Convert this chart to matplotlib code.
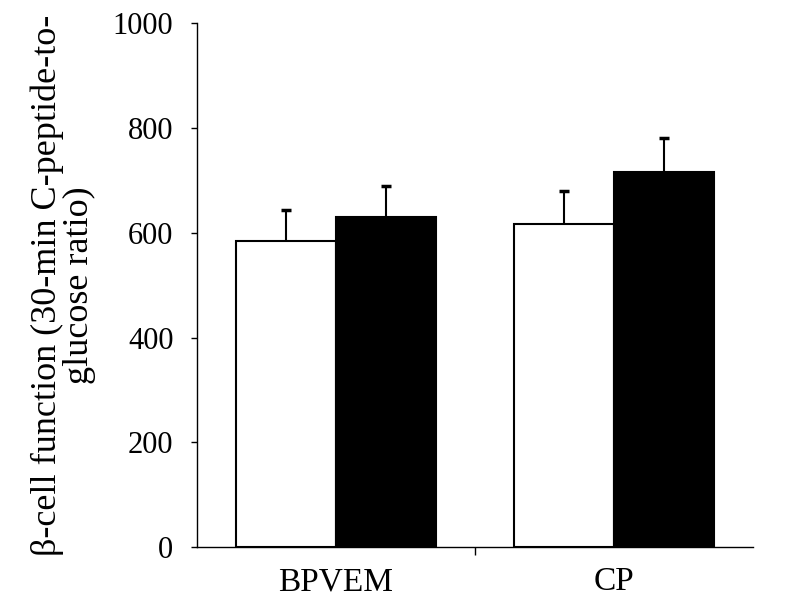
import numpy as np
import matplotlib
matplotlib.use('Agg')
import matplotlib.pyplot as plt

groups = ['BPVEM', 'CP']
white_vals = [585, 617]
white_err = [58, 63]
black_vals = [629, 716]
black_err = [60, 65]

plt.rcParams['font.family'] = ['Liberation Serif', 'DejaVu Serif']

fig = plt.figure(figsize=(7.88, 5.96), dpi=100)
ax = fig.add_axes([0.25, 0.0817, 0.7056, 0.8799])

x = np.arange(len(groups))
w = 0.358
ax.bar(x - w / 2, white_vals, w, color='white', edgecolor='black', linewidth=1.5, zorder=2)
ax.bar(x + w / 2, black_vals, w, color='black', edgecolor='black', linewidth=1.5, zorder=2)

# upper-only error bars
for xs, vals, errs in [(x - w / 2, white_vals, white_err), (x + w / 2, black_vals, black_err)]:
    _, caps, _ = ax.errorbar(xs, vals, yerr=[np.zeros(len(errs)), errs], fmt='none',
                             ecolor='black', elinewidth=1.5, capsize=3.5, capthick=2.5,
                             zorder=3)
    caps[0].set_visible(False)

ax.set_xlim(-0.5, 1.5)
ax.set_ylim(0, 1000)
ax.set_yticks(range(0, 1001, 200))
ax.set_xticks([0.5])
ax.set_xticklabels([''])
ax.set_xticks(x, minor=True)
ax.set_xticklabels(groups, minor=True)
ax.tick_params(axis='x', which='minor', length=0, pad=14, labelsize=24)
ax.tick_params(axis='x', which='major', length=6, width=1, direction='out')
ax.tick_params(axis='y', length=4, width=1, direction='out', labelsize=22, pad=13)

for s in ['top', 'right']:
    ax.spines[s].set_visible(False)
ax.spines['left'].set_linewidth(1)
ax.spines['bottom'].set_linewidth(1)

ax.set_ylabel('β-cell function (30-min C-peptide-to-\nglucose ratio)',
              fontsize=26, labelpad=12, linespacing=0.95)

fig.savefig('out.png', dpi=100)
